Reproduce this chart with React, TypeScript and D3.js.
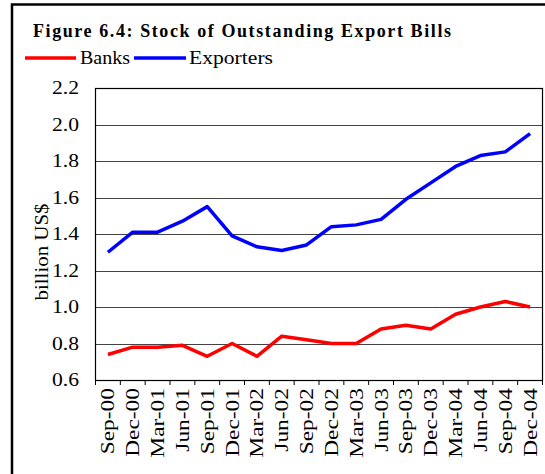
import React from "react";
import * as d3 from "d3";

const categories = ["Sep-00","Dec-00","Mar-01","Jun-01","Sep-01","Dec-01","Mar-02","Jun-02","Sep-02","Dec-02","Mar-03","Jun-03","Sep-03","Dec-03","Mar-04","Jun-04","Sep-04","Dec-04"];
const banks = [0.74,0.78,0.78,0.79,0.73,0.80,0.73,0.84,0.82,0.80,0.80,0.88,0.90,0.88,0.96,1.00,1.03,1.00];
const exporters = [1.30,1.41,1.41,1.47,1.55,1.39,1.33,1.31,1.34,1.44,1.45,1.48,1.59,1.68,1.77,1.83,1.85,1.95];
const yTicks = [0.6,0.8,1.0,1.2,1.4,1.6,1.8,2.0,2.2];
const title = "Figure 6.4: Stock of Outstanding Export Bills";

const FONT = "'Liberation Serif', 'Times New Roman', serif";

export default function App() {
  const W = 545, H = 474;
  const left = 95.5, right = 542.5, top = 88, bottom = 380;
  const x = d3.scaleBand<string>().domain(categories).range([left, right]).padding(0);
  const y = d3.scaleLinear().domain([0.6, 2.2]).range([bottom, top]);
  const cx = (c: string) => (x(c) as number) + x.bandwidth() / 2;
  const line = d3.line<number>().x((_, i) => cx(categories[i])).y((d) => y(d));

  const tickXs = categories.map((c) => x(c) as number).concat([right]);

  return (
    <svg width={W} height={H} style={{ position: "absolute", left: 0, top: 0, background: "#fff" }} fontFamily={FONT}>
      <rect x={0} y={0} width={W} height={H} fill="#fff" />
      {/* outer frame */}
      <path d={`M12,${H + 5} L12,4.5 L${W + 5},4.5`} fill="none" stroke="#000" strokeWidth={2.5} />
      {/* title */}
      <text x={33} y={37} fontSize={18} fontWeight="bold" textLength={418} lengthAdjust="spacing">{title}</text>
      {/* legend */}
      <line x1={25} x2={76} y1={58} y2={58} stroke="#ff0000" strokeWidth={3.5} />
      <text x={80} y={64} fontSize={19} textLength={50} lengthAdjust="spacingAndGlyphs">Banks</text>
      <line x1={134} x2={186} y1={58} y2={58} stroke="#0000ff" strokeWidth={3.5} />
      <text x={189} y={64} fontSize={19} textLength={84} lengthAdjust="spacingAndGlyphs">Exporters</text>

      {/* gridlines */}
      {yTicks.slice(1, -1).map((t) => (
        <line key={t} x1={left} x2={right} y1={Math.round(y(t)) + 0.5} y2={Math.round(y(t)) + 0.5} stroke="#444" strokeWidth={1} />
      ))}
      {/* plot border */}
      <rect x={left} y={top + 0.5} width={right - left} height={bottom - top} fill="none" stroke="#000" strokeWidth={1.2} />
      {/* y tick labels */}
      {yTicks.map((t) => (
        <text key={t} x={79} y={y(t) + 6} fontSize={19} textAnchor="end" textLength={27} lengthAdjust="spacingAndGlyphs">{t.toFixed(1)}</text>
      ))}
      {/* y axis title */}
      <text transform={`translate(48,${252}) rotate(-90)`} fontSize={19} textAnchor="middle" textLength={97} lengthAdjust="spacingAndGlyphs">billion US$</text>
      {/* x ticks */}
      {tickXs.map((tx, i) => (
        <line key={i} x1={tx} x2={tx} y1={bottom} y2={bottom + 5} stroke="#000" strokeWidth={1} />
      ))}
      {categories.map((c) => (
        <text key={c} transform={`translate(${cx(c) + 6.5},${388}) rotate(-90) scale(1.3,1)`} fontSize={18} textAnchor="end">{c}</text>
      ))}
      {/* series */}
      <path d={line(exporters) as string} fill="none" stroke="#0000ff" strokeWidth={3.5} strokeLinejoin="round" />
      <path d={line(banks) as string} fill="none" stroke="#ff0000" strokeWidth={3.5} strokeLinejoin="round" />
    </svg>
  );
}
